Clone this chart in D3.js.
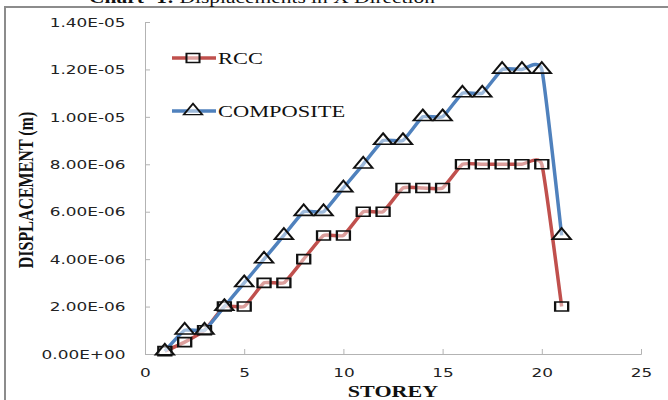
<!DOCTYPE html>
<html>
<head>
<meta charset="UTF-8">
<title>Displacements in X Direction</title>
<style>
    body { margin: 0; background: #fff; }
    .tick text { font-family: "DejaVu Sans", sans-serif; font-size: 13px; fill: #222; }
    .domain, .tick line { stroke: #b3b3b3; }
    .serif { font-family: "Liberation Serif", serif; fill: #111; }
</style>
</head>
<body>
<svg width="668" height="400"></svg>
<script src="https://cdn.jsdelivr.net/npm/d3@7"></script>
<script>
    var storeys = [1,2,3,4,5,6,7,8,9,10,11,12,13,14,15,16,17,18,19,20,21];
    var rcc = [1.2e-7,5e-7,1e-6,2e-6,2e-6,3e-6,3e-6,4e-6,5e-6,5e-6,6e-6,6e-6,7e-6,7e-6,7e-6,8e-6,8e-6,8e-6,8e-6,8e-6,2e-6];
    var composite = [1.2e-7,1e-6,1e-6,2e-6,3e-6,4e-6,5e-6,6e-6,6e-6,7e-6,8e-6,9e-6,9e-6,1e-5,1e-5,1.1e-5,1.1e-5,1.2e-5,1.2e-5,1.2e-5,5e-6];
    var xTicks = [0,5,10,15,20,25];
    var yTicks = [0,2e-6,4e-6,6e-6,8e-6,1e-5,1.2e-5,1.4e-5];

    // the source picture is stretched sideways, so is the text here
    var sx = 1.3;

    var svg = d3.select("svg");

    // outer frame (partly cut off by the page)
    svg.append("rect").attr("x", 5).attr("y", 7).attr("width", 700).attr("height", 420)
        .attr("fill", "none").attr("stroke", "#8c8c8c").attr("stroke-width", 2);

    function stretchedText(px, py, size, bold, str) {
        var t = svg.append("g").attr("transform", "translate(" + px + "," + py + ") scale(" + sx + ",1)")
            .append("text").attr("class", "serif").attr("text-anchor", "middle")
            .style("font-size", size + "px");
        if (bold) t.style("font-weight", "bold");
        if (str) t.text(str);
        return t;
    }

    // title, mostly above the visible area
    stretchedText(262, 3, 16.5, false)
        .html('<tspan font-weight="bold">Chart -1:</tspan> Displacements in X Direction');

    var x = d3.scaleLinear().domain([0, 25]).range([145, 641]);
    var y = d3.scaleLinear().domain([0, 1.4e-5]).range([354, 22]);

    svg.append("g").attr("transform", "translate(0,354)")
        .call(d3.axisBottom(x).tickValues(xTicks).tickSizeInner(-5).tickSizeOuter(-5).tickPadding(14))
        .call(function (g) {
            g.selectAll(".tick text").attr("dy", "0.71em").attr("transform", "scale(" + sx + ",1)");
        });

    svg.append("g").attr("transform", "translate(145,0)")
        .call(d3.axisLeft(y).tickValues(yTicks).tickSizeInner(-5).tickSizeOuter(-5).tickPadding(15)
            .tickFormat(function (d) {
                var s = d.toExponential(2).toUpperCase();
                return s.replace(/E([+-])(\d)$/, "E$10$2");
            }))
        .call(function (g) {
            g.selectAll(".tick text").attr("transform", "scale(" + sx + ",1)");
        });

    // axis titles
    stretchedText(393, 397, 17, true, "STOREY");
    svg.append("g").attr("transform", "translate(33,190) scale(" + sx + ",1) rotate(-90)")
        .append("text").attr("class", "serif").attr("text-anchor", "middle")
        .style("font-weight", "bold").style("font-size", "16px")
        .text("DISPLACEMENT (m)");

    var series = [
        {name: "RCC", values: rcc, color: "#c0504d", marker: d3.symbolSquare, size: 81},
        {name: "COMPOSITE", values: composite, color: "#4f81bd", marker: d3.symbolTriangle, size: 70}
    ];

    var line = d3.line()
        .x(function (d, i) { return x(storeys[i]); })
        .y(function (d) { return y(d); })
        .curve(d3.curveCardinal.tension(0.6));

    series.forEach(function (s) {
        svg.append("path").datum(s.values).attr("d", line)
            .attr("fill", "none").attr("stroke", s.color).attr("stroke-width", 3.5);
    });

    function markerPath(s) {
        return d3.symbol().type(s.marker).size(s.size)();
    }

    series.forEach(function (s) {
        svg.selectAll(null).data(s.values).enter().append("path")
            .attr("d", markerPath(s))
            .attr("transform", function (d, i) {
                return "translate(" + x(storeys[i]) + "," + y(d) + ") scale(1.45,1)";
            })
            .attr("fill", "rgba(255,255,255,0.45)").attr("stroke", "#111").attr("stroke-width", 1.6);
    });

    // legend
    series.forEach(function (s, i) {
        var ly = 58 + i * 53;
        svg.append("line").attr("x1", 172).attr("x2", 216).attr("y1", ly).attr("y2", ly)
            .attr("stroke", s.color).attr("stroke-width", 3.5);
        svg.append("path").attr("d", markerPath(s))
            .attr("transform", "translate(193," + ly + ") scale(1.45,1)")
            .attr("fill", "rgba(255,255,255,0.45)").attr("stroke", "#111").attr("stroke-width", 1.4);
        svg.append("g").attr("transform", "translate(218," + (ly + 6) + ") scale(1.36,1)")
            .append("text").attr("class", "serif").style("font-size", "16.5px").text(s.name);
    });
</script>
</body>
</html>
